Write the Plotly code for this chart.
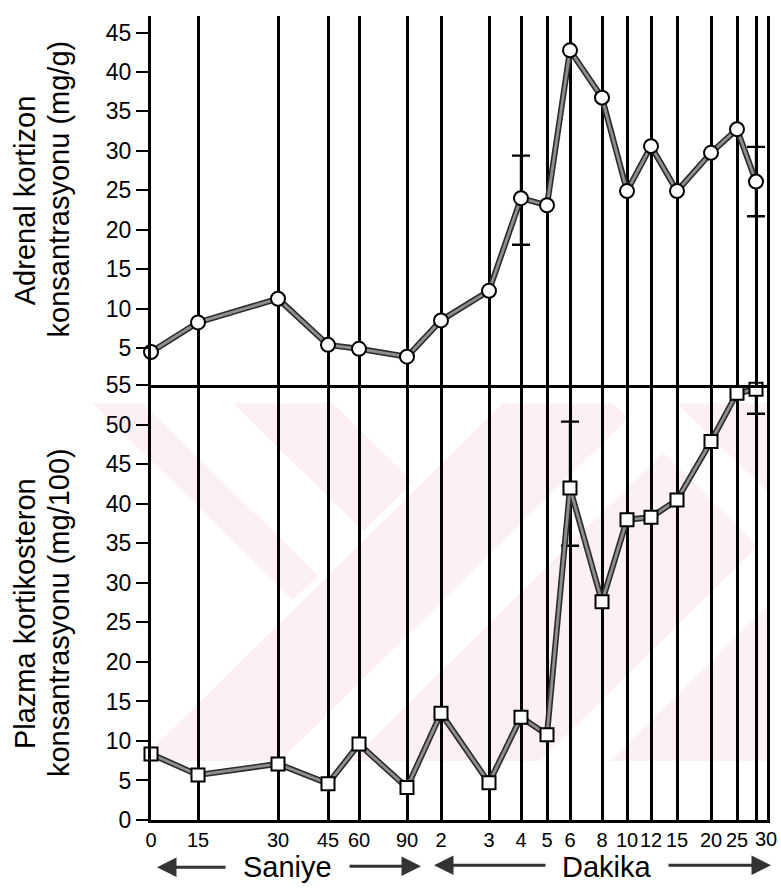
import plotly.graph_objects as go

# ---- data -------------------------------------------------------------
# time axis (non-uniform): tick labels and their place along the time scale
time_labels = ["0", "15", "30", "45", "60", "90", "2", "3", "4", "5", "6",
               "8", "10", "12", "15", "20", "25", "30"]
time_scale = [0, 47, 127, 177, 208, 256, 290, 338, 370, 396, 419,
              451, 476, 500, 526, 560, 586, 605]

# adrenal cortisone concentration (mg/g)
adrenal_kortizon = [4.5, 8.25, 11.25, 5.4, 4.9, 3.9, 8.5, 12.25, 24.0, 23.1,
                    42.75, 36.75, 24.9, 30.6, 24.9, 29.75, 32.75, 26.1]
adrenal_err_idx = [8, 17]
adrenal_err_plus = [5.4, 4.4]
adrenal_err_minus = [5.9, 4.4]

# plasma corticosterone concentration (mg/100)
plazma_kortikosteron = [8.35, 5.7, 7.1, 4.6, 9.6, 4.1, 13.5, 4.7, 13.0, 10.8,
                        42.0, 27.6, 38.0, 38.3, 40.5, 47.9, 54.0, 54.5]
plazma_err_idx = [10, 17]
plazma_err_plus = [8.4, 3.5]
plazma_err_minus = [7.3, 3.1]

top_ticks = [5, 10, 15, 20, 25, 30, 35, 40, 45]
bottom_ticks = [0, 5, 10, 15, 20, 25, 30, 35, 40, 45, 50, 55]

# ---- geometry ---------------------------------------------------------
W, H = 781, 889
L, R, T, B = 151, 767, 4, 820          # plot area in page pixels
SPLIT = 378                             # border between the two panels
split_frac = (B - SPLIT) / (B - T)


def px_x(p):
    return (p - L) / (R - L)


def px_y(p):
    return (B - p) / (B - T)


LINE_DARK = "#2b2b2b"
LINE_GREY = "#8e8e8e"
TICK_FONT = dict(family="Liberation Sans, Arial, sans-serif", size=23, color="black")
XTICK_FONT = dict(family="Liberation Sans, Arial, sans-serif", size=20, color="black")
TITLE_FONT = dict(family="Liberation Sans, Arial, sans-serif", size=29, color="black")
ARROW_TEXT_FONT = dict(family="Liberation Sans, Arial, sans-serif", size=29, color="black")

fig = go.Figure()


def add_series(values, err_idx, err_plus, err_minus, xa, ya, symbol, msize):
    # error bars
    fig.add_trace(go.Scatter(
        x=[time_scale[i] for i in err_idx], y=[values[i] for i in err_idx],
        xaxis=xa, yaxis=ya, mode="markers",
        marker=dict(size=1, opacity=0),
        error_y=dict(type="data", symmetric=False, array=err_plus,
                     arrayminus=err_minus, color="black", thickness=2.4, width=9),
        cliponaxis=False, hoverinfo="skip", showlegend=False))
    # thick grey connecting line with dark edges
    fig.add_trace(go.Scatter(
        x=time_scale, y=values, xaxis=xa, yaxis=ya, mode="lines",
        line=dict(color=LINE_DARK, width=6), cliponaxis=False,
        hoverinfo="skip", showlegend=False))
    fig.add_trace(go.Scatter(
        x=time_scale, y=values, xaxis=xa, yaxis=ya, mode="lines+markers",
        line=dict(color=LINE_GREY, width=2.8),
        marker=dict(symbol=symbol, size=msize, color="white",
                    line=dict(color="black", width=2)),
        cliponaxis=False, showlegend=False))


add_series(adrenal_kortizon, adrenal_err_idx, adrenal_err_plus, adrenal_err_minus,
           "x2", "y2", "circle", 14)
add_series(plazma_kortikosteron, plazma_err_idx, plazma_err_plus, plazma_err_minus,
           "x", "y", "square", 13)

xcommon = dict(range=[0, R - L], tickmode="array", tickvals=time_scale,
               showgrid=True, gridcolor="black", gridwidth=2.5, zeroline=False,
               showline=True, linecolor="black", linewidth=3, fixedrange=True)

# last time label sits just right of its grid line, clear of the crowded "25"
axis_text = time_labels[:-1] + [""]

fig.update_layout(
    width=W, height=H,
    margin=dict(l=L, r=W - R, t=T, b=H - B),
    paper_bgcolor="white", plot_bgcolor="white",
    showlegend=False,
    xaxis=dict(**xcommon, anchor="y", ticktext=axis_text, tickangle=0,
               ticks="", tickfont=XTICK_FONT, ticklabelstandoff=0),
    xaxis2=dict(**xcommon, anchor="y2", matches="x", showticklabels=False, ticks=""),
    yaxis=dict(domain=[0, split_frac], range=[0, 55.1],
               tickmode="array", tickvals=bottom_ticks, ticks="outside",
               ticklen=12, tickwidth=2, tickcolor="black", tickfont=TICK_FONT,
               showline=True, mirror=True, linecolor="black", linewidth=3,
               showgrid=False, zeroline=False, anchor="x"),
    yaxis2=dict(domain=[split_frac, 1], range=[0.375, 47.1],
                tickmode="array", tickvals=top_ticks, ticks="outside",
                ticklen=12, tickwidth=2, tickcolor="black", tickfont=TICK_FONT,
                showline=True, mirror=True, linecolor="black", linewidth=3,
                showgrid=False, zeroline=False, anchor="x2"),
)

# faint pink background print behind the lower panel
PINK = "#fdf0f3"
bands = [
    [(93, 397), (143, 397), (318, 572), (293, 597)],
    [(233, 397), (333, 397), (413, 477), (363, 527)],
    [(503, 397), (613, 397), (628, 412), (280, 760), (140, 760)],
    [(663, 447), (758, 542), (540, 760), (350, 760)],
    [(770, 600), (770, 760), (610, 760)],
    [(677, 397), (770, 397), (770, 490)],
]
shapes = []
for poly in bands:
    path = "M " + " L ".join(f"{px_x(px):.4f},{px_y(py):.4f}" for px, py in poly) + " Z"
    shapes.append(dict(type="path", path=path, xref="paper", yref="paper",
                       fillcolor=PINK, line=dict(width=0), layer="below"))
fig.update_layout(shapes=shapes)

annotations = [
    dict(text="Adrenal kortizon", x=px_x(25), y=px_y(191), textangle=-90, font=TITLE_FONT),
    dict(text="konsantrasyonu (mg/g)", x=px_x(59), y=px_y(180), textangle=-90, font=TITLE_FONT),
    dict(text="Plazma kortikosteron", x=px_x(25), y=px_y(610), textangle=-90, font=TITLE_FONT),
    dict(text="konsantrasyonu (mg/100)", x=px_x(59), y=px_y(610), textangle=-90, font=TITLE_FONT),
    dict(text="Saniye", x=px_x(287), y=px_y(868), font=ARROW_TEXT_FONT),
    dict(text="Dakika", x=px_x(607), y=px_y(868), font=ARROW_TEXT_FONT),
]
for a in annotations:
    a.update(xref="paper", yref="paper", showarrow=False,
             xanchor="center", yanchor="middle")

# final time label
annotations.append(dict(
    text=time_labels[-1], x=time_scale[-1], xref="x", y=0, yref="paper",
    xshift=10, yshift=-6, xanchor="center", yanchor="top",
    showarrow=False, font=XTICK_FONT))

# direction arrows under the time axis: (head x, tail x, y)
arrows = [(157, 227, 868), (421, 348, 867), (434, 547, 866), (771, 667, 866)]
for head, tail, yy in arrows:
    annotations.append(dict(
        x=px_x(head), y=px_y(yy), xref="paper", yref="paper", text="",
        showarrow=True, ax=tail - head, ay=0, arrowhead=2, arrowsize=1.3,
        arrowwidth=3, arrowcolor="#333333"))

fig.update_layout(annotations=annotations)

fig.write_html("out.html")
